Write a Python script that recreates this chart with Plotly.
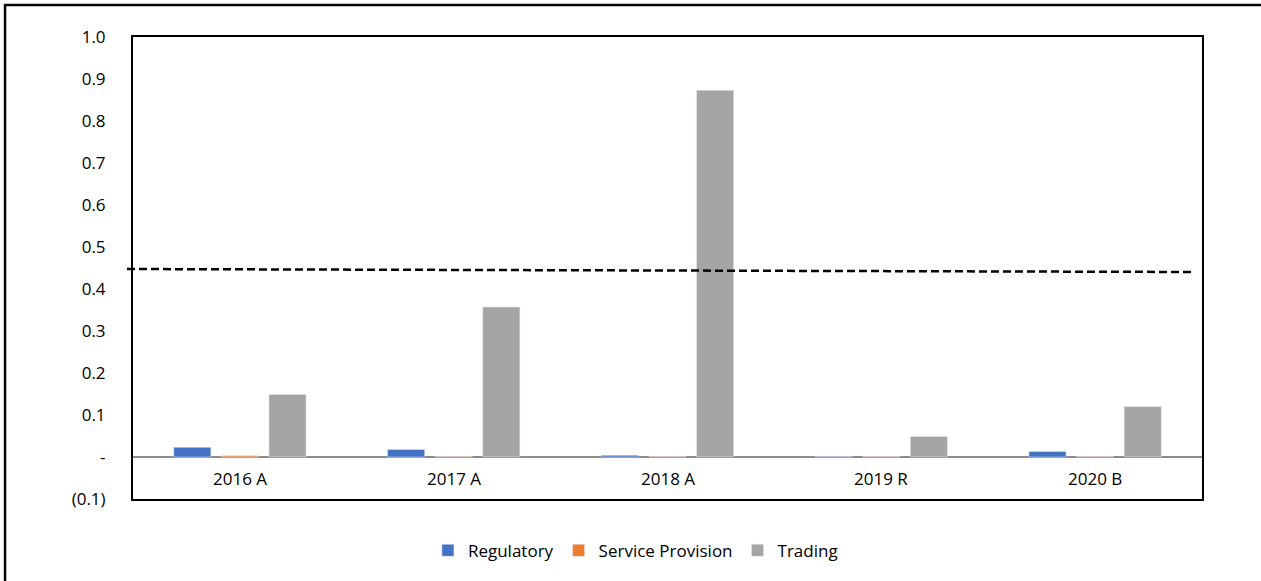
import plotly.graph_objects as go

categories = ["2016 A", "2017 A", "2018 A", "2019 R", "2020 B"]
regulatory = [0.023, 0.018, 0.004, 0.001, 0.013]
service_provision = [0.003, 0.001, 0.001, 0.001, 0.001]
trading = [0.149, 0.357, 0.873, 0.049, 0.120]
threshold_start = 0.4476
threshold_end = 0.4405

y_tickvals = [-0.1, 0, 0.1, 0.2, 0.3, 0.4, 0.5, 0.6, 0.7, 0.8, 0.9, 1.0]
y_ticktext = ["(0.1)", "-", "0.1", "0.2", "0.3", "0.4", "0.5", "0.6", "0.7", "0.8", "0.9", "1.0"]

FONT = "Open Sans"
FS = 17

fig = go.Figure()
fig.add_bar(x=categories, y=regulatory, name="Regulatory", marker_color="#4472C4")
fig.add_bar(x=categories, y=service_provision, name="Service Provision", marker_color="#ED7D31")
fig.add_bar(x=categories, y=trading, name="Trading", marker_color="#A5A5A5")

for c in categories:
    fig.add_annotation(x=c, y=-0.05, xref="x", yref="y", text=c, showarrow=False,
                       font=dict(family=FONT, size=FS, color="#000000"))

# dashed reference line
fig.add_shape(type="line", xref="paper", yref="y", x0=-0.0056, x1=0.9916,
              y0=threshold_start, y1=threshold_end,
              line=dict(color="#000000", width=2.5, dash="8px,4px"))
# outer chart frame
fig.add_shape(type="rect", xref="paper", yref="paper", x0=-0.1197, x1=1.2,
              y0=-0.2, y1=1.069, line=dict(color="#000000", width=2.5), layer="below")

fig.update_layout(
    width=1261, height=581,
    margin=dict(l=133, r=59, t=37, b=80),
    plot_bgcolor="#FFFFFF", paper_bgcolor="#FFFFFF",
    barmode="group", bargap=0.332, bargroupgap=0.22,
    font=dict(family=FONT, size=FS, color="#000000"),
    showlegend=True,
    legend=dict(orientation="h", x=0.47, xanchor="center", y=-0.112, yanchor="middle",
                font=dict(family=FONT, size=FS, color="#000000"), itemwidth=30,
                traceorder="normal"),
    xaxis=dict(showticklabels=False, showline=True, linecolor="#000000", linewidth=2,
               mirror=True, showgrid=False, ticks=""),
    yaxis=dict(range=[-0.1, 1.0], tickvals=y_tickvals, ticktext=y_ticktext,
               showline=True, linecolor="#000000", linewidth=2, mirror=True,
               showgrid=False, zeroline=True, zerolinecolor="#8C8C8C", zerolinewidth=2,
               ticks="", ticklabelstandoff=22, tickfont=dict(family=FONT, size=FS)),
)

fig.write_html("out.html", config={"displayModeBar": False},
               post_script="document.body.style.margin='0px';document.body.style.overflow='hidden';")
